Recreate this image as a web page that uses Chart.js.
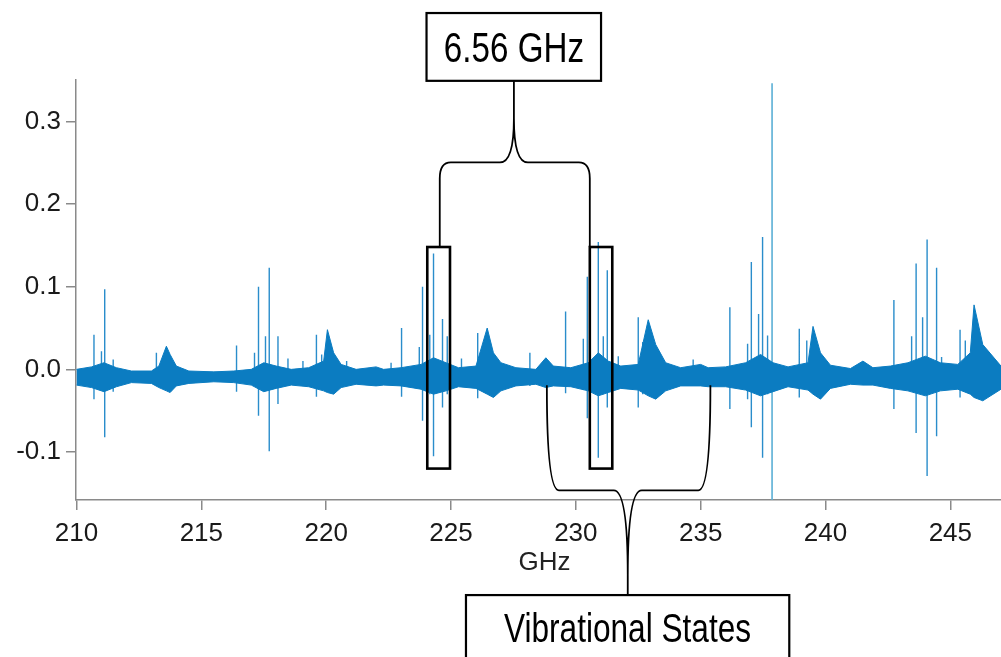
<!DOCTYPE html>
<html><head><meta charset="utf-8">
<script src="https://cdn.jsdelivr.net/npm/chart.js@4.4.1/dist/chart.umd.min.js"></script>
<style>html,body{margin:0;padding:0;background:#fff;overflow:hidden}#wrap{width:1001px;height:657px}</style>
</head><body><div id="wrap"><canvas id="c" width="1001" height="657"></canvas></div>
<script>
// ---- tick labels ----
const xTicks = [210, 215, 220, 225, 230, 235, 240, 245];
const yTicks = [-0.1, 0.0, 0.1, 0.2, 0.3];
const xTitle = 'GHz';

// ---- baseline noise envelope (GHz, upper, lower) ----
const bandFreq  = [210.0,210.6,211.1,211.6,212.2,213.0,213.3,213.6,213.75,214.0,214.5,215.5,216.3,217.0,217.5,218.0,218.6,219.3,219.9,220.05,220.3,220.6,221.2,222.0,222.3,223.0,223.8,224.3,224.8,225.3,226.0,226.45,226.7,227.0,227.6,228.4,228.8,229.1,229.8,230.5,230.9,231.3,231.8,232.5,232.9,233.2,233.6,234.2,235.0,235.3,236.0,236.8,237.4,237.9,238.5,239.3,239.5,239.8,240.2,241.0,241.5,241.9,242.6,243.3,244.0,244.6,245.3,245.8,245.95,246.3,247.03];
const bandUpper = [0.000,0.003,0.008,0.002,-0.002,-0.002,0.004,0.028,0.018,0.004,-0.002,-0.003,-0.002,0.000,0.008,0.004,0.000,0.002,0.010,0.048,0.020,0.006,0.000,0.003,0.000,0.002,0.006,0.014,0.008,0.002,0.004,0.050,0.020,0.008,0.002,0.000,0.014,0.004,0.002,0.008,0.020,0.010,0.004,0.006,0.060,0.030,0.008,0.002,0.006,0.002,0.003,0.008,0.018,0.008,0.003,0.008,0.052,0.020,0.005,0.001,0.010,0.002,0.004,0.008,0.016,0.008,0.006,0.020,0.078,0.030,0.004];
const bandLower = [-0.019,-0.022,-0.027,-0.021,-0.016,-0.017,-0.022,-0.026,-0.028,-0.020,-0.017,-0.015,-0.016,-0.019,-0.027,-0.023,-0.019,-0.021,-0.026,-0.028,-0.030,-0.022,-0.018,-0.020,-0.019,-0.020,-0.024,-0.030,-0.026,-0.021,-0.023,-0.030,-0.034,-0.026,-0.020,-0.018,-0.022,-0.020,-0.021,-0.026,-0.032,-0.028,-0.023,-0.025,-0.032,-0.036,-0.026,-0.020,-0.020,-0.021,-0.021,-0.025,-0.032,-0.027,-0.021,-0.025,-0.030,-0.036,-0.023,-0.018,-0.019,-0.019,-0.023,-0.026,-0.032,-0.026,-0.024,-0.030,-0.034,-0.038,-0.024];

// ---- sharp spectral lines (GHz, top, bottom) ----
const lineFreq   = [210.70,211.00,211.13,211.47,213.20,216.41,217.13,217.29,217.57,217.72,218.07,218.47,219.07,219.61,219.82,220.82,222.60,223.02,223.73,223.86,224.15,224.30,224.66,224.85,225.42,226.07,228.16,229.59,230.30,230.46,230.90,231.10,231.26,231.70,232.50,232.68,234.70,236.17,236.88,237.03,237.32,237.48,237.68,238.95,239.25,242.74,243.45,243.63,243.89,244.07,244.45,244.65,245.39,245.60];
const lineTop    = [0.042,0.022,0.097,0.012,0.020,0.029,0.020,0.100,0.040,0.123,0.040,0.013,0.010,0.042,0.018,0.010,0.008,0.050,0.027,0.100,0.042,0.140,0.061,0.040,0.013,0.044,0.020,0.070,0.037,0.112,0.154,0.040,0.120,0.016,0.063,0.033,0.012,0.075,0.031,0.130,0.067,0.160,0.041,0.049,0.035,0.084,0.040,0.128,0.063,0.157,0.123,0.015,0.048,0.035];
const lineBottom = [-0.036,-0.025,-0.082,-0.027,-0.020,-0.027,-0.018,-0.056,-0.025,-0.099,-0.042,-0.020,-0.018,-0.033,-0.020,-0.018,-0.018,-0.033,-0.020,-0.062,-0.030,-0.105,-0.046,-0.030,-0.020,-0.035,-0.020,-0.029,-0.025,-0.059,-0.107,-0.030,-0.046,-0.020,-0.046,-0.030,-0.018,-0.048,-0.036,-0.070,-0.030,-0.107,-0.030,-0.034,-0.020,-0.048,-0.025,-0.077,-0.030,-0.129,-0.081,-0.020,-0.034,-0.020];

// ---- strongest line ----
const strongFreq   = [237.86];
const strongTop    = [0.346];
const strongBottom = [-0.20];

// ---- annotations (data units) ----
const spacingLabel = '6.56 GHz';
const statesLabel  = 'Vibrational States';
const markedRanges = [[224.05, 224.96], [230.56, 231.46]];
const markedSpan   = [0.148, -0.120];

function segments(f, t, b) {
  const out = [];
  for (let i = 0; i < f.length; i++) {
    out.push({x: f[i], y: t[i]}, {x: f[i], y: b[i]}, {x: f[i], y: null});
  }
  return out;
}

const FONT = "'Liberation Sans', Arial, Helvetica, sans-serif";
const BLUE = '#0b7cc1';

const annot = {
  id: 'annot',
  afterDatasetsDraw(chart) {
    const ctx = chart.ctx, sx = chart.scales.x, sy = chart.scales.y;
    const X = v => sx.getPixelForValue(v), Y = v => sy.getPixelForValue(v);
    ctx.save();
    ctx.strokeStyle = '#000';
    // marked boxes
    ctx.lineWidth = 2.6;
    markedRanges.forEach(r => {
      ctx.strokeRect(X(r[0]), Y(markedSpan[0]), X(r[1]) - X(r[0]), Y(markedSpan[1]) - Y(markedSpan[0]));
    });
    // braces
    function brace(xl, xr, yArm, yBar, xm, yTip, cr, cy, fx, fy) {
      const a = X(xl), b = X(xr), ya = Y(yArm), yb = Y(yBar), m = X(xm), yt = Y(yTip);
      const s = yt < yb ? -1 : 1;
      ctx.beginPath();
      ctx.moveTo(a, ya);
      ctx.lineTo(a, yb - s * cy);
      ctx.quadraticCurveTo(a, yb, a + cr, yb);
      ctx.lineTo(m - fx, yb);
      ctx.quadraticCurveTo(m, yb, m, yb + s * fy);
      ctx.lineTo(m, yt);
      ctx.moveTo(b, ya);
      ctx.lineTo(b, yb - s * cy);
      ctx.quadraticCurveTo(b, yb, b - cr, yb);
      ctx.lineTo(m + fx, yb);
      ctx.quadraticCurveTo(m, yb, m, yb + s * fy);
      ctx.stroke();
    }
    ctx.lineWidth = 1.8;
    brace(224.55, 230.56, 0.148, 0.2503, 227.52, 0.349, 11, 16, 14, 44);
    brace(228.84, 235.39, -0.0193, -0.1463, 232.08, -0.2733, 12, 103, 14, 85);
    // label boxes
    ctx.lineWidth = 2.2;
    function labelBox(x1, x2, y1, y2, text, xc, yBase, size) {
      ctx.fillStyle = '#fff';
      ctx.fillRect(X(x1), Y(y1), X(x2) - X(x1), Y(y2) - Y(y1));
      ctx.strokeRect(X(x1), Y(y1), X(x2) - X(x1), Y(y2) - Y(y1));
      ctx.fillStyle = '#000';
      ctx.save();
      ctx.translate(X(xc), Y(yBase));
      ctx.scale(0.79, 1);
      ctx.font = size + 'px ' + FONT;
      ctx.textAlign = 'center';
      ctx.textBaseline = 'alphabetic';
      ctx.fillText(text, 0, 0);
      ctx.restore();
    }
    labelBox(224.02, 231.01, 0.431, 0.349, spacingLabel, 227.52, 0.3716, 42);
    labelBox(225.6, 238.55, -0.273, -0.40, statesLabel, 232.07, -0.3297, 40);
    // axis title
    ctx.fillStyle = '#222';
    ctx.font = '26px ' + FONT;
    ctx.textAlign = 'center';
    ctx.textBaseline = 'alphabetic';
    ctx.fillText(xTitle, X(228.75), 570);
    ctx.restore();
  }
};

new Chart(document.getElementById('c'), {
  type: 'line',
  data: {
    datasets: [
      {data: bandFreq.map((f, i) => ({x: f, y: bandUpper[i]})), borderColor: BLUE, backgroundColor: BLUE, borderWidth: 1, fill: '+1', pointRadius: 0, tension: 0},
      {data: bandFreq.map((f, i) => ({x: f, y: bandLower[i]})), borderColor: BLUE, borderWidth: 1, fill: false, pointRadius: 0, tension: 0},
      {data: segments(lineFreq, lineTop, lineBottom), borderColor: '#2a8dcb', borderWidth: 1.4, fill: false, pointRadius: 0, spanGaps: false, tension: 0},
      {data: segments(strongFreq, strongTop, strongBottom), borderColor: '#5cb0d6', borderWidth: 1.6, fill: false, pointRadius: 0, spanGaps: false, tension: 0}
    ]
  },
  options: {
    responsive: false,
    animation: false,
    events: [],
    layout: {padding: {top: 80, left: 0, right: 0, bottom: 0}},
    plugins: {legend: {display: false}, tooltip: {enabled: false}},
    scales: {
      x: {
        type: 'linear', min: 209.98, max: 247.03,
        afterBuildTicks: s => { s.ticks = xTicks.map(v => ({value: v})); },
        afterFit: s => { s.height = 157; },
        grid: {display: true, drawOnChartArea: false, drawTicks: true, tickLength: 10, color: '#8a8a8a', lineWidth: 1.5},
        border: {display: true, color: '#8a8a8a', width: 1.5},
        ticks: {font: {family: FONT, size: 26}, color: '#1a1a1a', padding: 8, maxRotation: 0, autoSkip: false, callback: v => String(v)}
      },
      y: {
        type: 'linear', min: -0.158, max: 0.35,
        afterBuildTicks: s => { s.ticks = yTicks.map(v => ({value: v})); },
        afterFit: s => { s.width = 76; },
        grid: {display: true, drawOnChartArea: false, drawTicks: true, tickLength: 10, color: '#8a8a8a', lineWidth: 1.5},
        border: {display: true, color: '#8a8a8a', width: 1.5},
        ticks: {font: {family: FONT, size: 26}, color: '#1a1a1a', padding: 5, callback: v => Number(v).toFixed(1)}
      }
    }
  },
  plugins: [annot]
});
</script>
</body></html>
